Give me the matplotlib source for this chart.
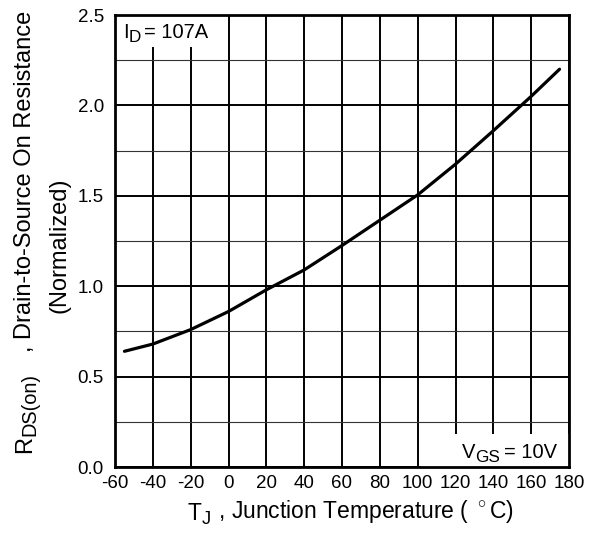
import matplotlib
matplotlib.use("Agg")
import matplotlib.pyplot as plt
from matplotlib.patches import Rectangle
from matplotlib.ticker import MultipleLocator

plt.rcParams['font.family'] = ['Liberation Sans', 'DejaVu Sans']
plt.rcParams['mathtext.fontset'] = 'custom'
plt.rcParams['mathtext.rm'] = 'Liberation Sans'

# Data
temp_c = [-55, -40, -20, 0, 20, 40, 60, 80, 100, 120, 140, 160, 175]
rds_norm = [0.64, 0.68, 0.76, 0.86, 0.98, 1.09, 1.225, 1.365, 1.505, 1.675, 1.86, 2.05, 2.20]
x_ticks = [-60, -40, -20, 0, 20, 40, 60, 80, 100, 120, 140, 160, 180]
y_ticks = [0.0, 0.5, 1.0, 1.5, 2.0, 2.5]
y_tick_labels = ["0.0", "0.5", "1.0", "1.5", "2.0", "2.5"]

fig = plt.figure(figsize=(5.91, 5.34), dpi=100)
ax = fig.add_axes([115/591, 1-467/534, (569-115)/591, (467-15)/534])

ax.set_xlim(-60, 180)
ax.set_ylim(0, 2.5)
ax.set_xticks(x_ticks)
ax.set_xticklabels([str(v) for v in x_ticks])
ax.set_yticks(y_ticks)
ax.set_yticklabels(y_tick_labels)
ax.yaxis.set_minor_locator(MultipleLocator(0.25))
ax.tick_params(which='both', length=0)
ax.tick_params(axis='x', pad=6, labelsize=13.5)
ax.tick_params(axis='y', pad=8, labelsize=13.5)

ax.set_axisbelow(True)
ax.grid(True, which='major', axis='x', color='black', linewidth=1.4)
ax.grid(True, which='major', axis='y', color='black', linewidth=1.4)
ax.grid(True, which='minor', axis='y', color='#333333', linewidth=0.8)

for s in ax.spines.values():
    s.set_linewidth(2.0)

# White areas behind the annotations
ax.add_patch(Rectangle((0, 1 - 32/452), 110/454, 32/452, transform=ax.transAxes,
                       facecolor='white', edgecolor='none', zorder=1))
ax.add_patch(Rectangle((1 - 148/454, 0), 148/454, 33/452, transform=ax.transAxes,
                       facecolor='white', edgecolor='none', zorder=1))

ax.plot(temp_c, rds_norm, color='black', linewidth=2.3, zorder=3, solid_capstyle='round')


def sub_label(x, y, main, sub, rest, fs, transform, sub_scale=0.85, drop=2.5,
              gap_after=1.0, rotated=False):
    """Draw main text + large lowered subscript + rest, chained."""
    rot = 90 if rotated else 0
    kw = dict(rotation=rot, rotation_mode='anchor', ha='left', va='bottom',
              zorder=4, annotation_clip=False)
    t1 = ax.text(x, y, main, fontsize=fs, transform=transform, zorder=4,
                 rotation=rot, rotation_mode='anchor', ha='left', va='bottom',
                 clip_on=False)
    if rotated:
        off_sub, off_rest = (drop, 0), (-drop, gap_after)
        xy_next = (1, 1)
    else:
        off_sub, off_rest = (0, -drop), (gap_after, drop)
        xy_next = (1, 0)
    t2 = ax.annotate(sub, xy=xy_next, xycoords=t1, xytext=off_sub,
                     textcoords='offset points', fontsize=fs*sub_scale, **kw)
    t3 = ax.annotate(rest, xy=xy_next, xycoords=t2, xytext=off_rest,
                     textcoords='offset points', fontsize=fs, **kw)
    return t1, t2, t3


sub_label(8/454, 1 - 27/452, "I", "D", "= 107A", 14.5, ax.transAxes, gap_after=2.5)
sub_label((462-115)/454, 5/452, "V", "GS", "= 10V", 14.5, ax.transAxes, gap_after=2.5)

sub_label(188/591, 1 - 525/534, "T", "J", " , Junction Temperature ( $^\\circ$C)",
          16.5, fig.transFigure, sub_scale=0.8, gap_after=0.5)
sub_label(36/591, 1 - 453/534, "R", "DS(on)", "   , Drain-to-Source On Resistance",
          17, fig.transFigure, sub_scale=0.85, gap_after=0.5, rotated=True)
fig.text(66/591, 1 - 245/534, "(Normalized)",
         fontsize=17, ha='center', va='baseline', rotation=90, rotation_mode='anchor')

fig.savefig("out.png", dpi=100)
